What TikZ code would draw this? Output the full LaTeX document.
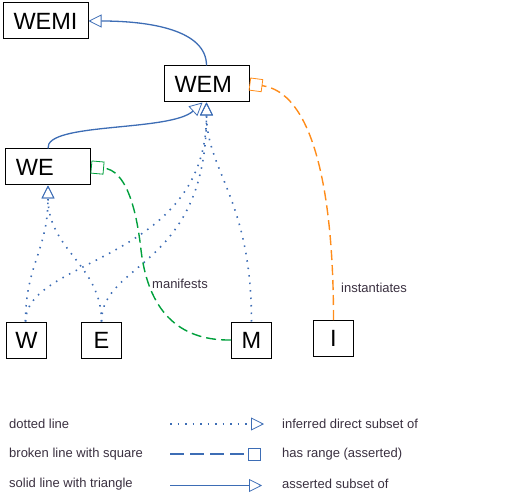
\documentclass[tikz,border=0pt]{standalone}
\usepackage{fontspec}
\setmainfont{Liberation Sans}
\usetikzlibrary{arrows.meta}
\definecolor{lblue}{HTML}{3D6DB5}
\definecolor{lgreen}{HTML}{00A03C}
\definecolor{lorange}{HTML}{FF8C1A}
\definecolor{ltext}{HTML}{3A3040}
\begin{document}
\begin{tikzpicture}[x=1pt,y=-1pt,
  box/.style={draw=black, line width=1pt, minimum height=36pt, inner sep=0pt, font=\fontsize{23.5}{28}\selectfont},
  bigbox/.style={box, minimum width=85pt, text width=64pt, align=left},
  smallbox/.style={box, minimum width=40pt},
  lbl/.style={font=\fontsize{13}{15}\selectfont, text=ltext, anchor=west, inner sep=0pt},
  tri/.style={-{Triangle[open,length=13pt,width=13pt,line width=0.8pt]}},
  sq/.style={-{Square[open,length=13pt,width=13pt,line width=0.8pt]}},
  solidrel/.style={draw=lblue, line width=1.3pt, tri},
  dotrel/.style={draw=lblue, line width=1.6pt, dash pattern=on 1.5pt off 6pt, tri},
  greenrel/.style={draw=lgreen, line width=1.4pt, dash pattern=on 10pt off 5pt, sq},
  orangerel/.style={draw=lorange, line width=1.4pt, dash pattern=on 10pt off 5pt, sq}
]
\useasboundingbox (0,0) rectangle (527,494);
% nodes
\node[bigbox] (WEMI) at (45.5,21) {WEMI};
\node[bigbox] (WEM) at (206.5,84) {WEM};
\node[bigbox] (WE) at (48,167) {WE};
\node[smallbox] (W) at (26.5,340) {W};
\node[smallbox] (E) at (101.5,340) {E};
\node[smallbox] (M) at (251.5,340) {M};
\node[smallbox] (I) at (333.5,338.5) {I};
% solid subset arrows
\draw[solidrel] (WEM.north) .. controls (206.5,30) and (150,21) .. (WEMI.east);
\draw[solidrel] (WE.north) .. controls (45,122) and (170,132) .. ([xshift=-4pt]WEM.south);
% dotted inferred arrows
\draw[dotrel] ([xshift=-1pt]W.north) .. controls (25.5,265) and (48,250) .. (WE.south);
\draw[dotrel] (E.north) .. controls (101.5,265) and (48,250) .. (WE.south);
\draw[dotrel] ([xshift=-1pt]W.north) .. controls (25.5,258) and (206.5,262) .. (WEM.south);
\draw[dotrel] (E.north) .. controls (101.5,262) and (206.5,268) .. (WEM.south);
\draw[dotrel] (M.north) .. controls (251.5,200) and (206.5,170) .. (WEM.south);
% range arrows
\draw[greenrel] (M.west) .. controls (170,341) and (147,300) .. (141,250) .. controls (136,205) and (125,170) .. (WE.east);
\draw[orangerel] (I.north) .. controls (333.5,180) and (310,92) .. (WEM.east);
\node[lbl] (lman) at (152,284) {manifests};
\node[lbl] (linst) at (341,288) {instantiates};
% legend
\node[lbl] (t1) at (9,424) {dotted line};
\node[lbl] (t2) at (9,454) {broken line with square};
\node[lbl] (t3) at (9,484) {solid line with triangle};
\coordinate (l1a) at (170,424); \coordinate (l1b) at (264,424);
\coordinate (l2a) at (170,454); \coordinate (l2b) at (261,454);
\coordinate (l3a) at (170,485.5); \coordinate (l3b) at (262,485.5);
\draw[draw=lblue, line width=1.6pt, dash pattern=on 1.5pt off 6pt, tri] (l1a) -- (l1b);
\draw[draw=lblue, line width=1.4pt, dash pattern=on 14pt off 6pt, sq] (l2a) -- (l2b);
\draw[solidrel] (l3a) -- (l3b);
\node[lbl] (r1) at (282,424) {inferred direct subset of};
\node[lbl] (r2) at (282,454) {has range (asserted)};
\node[lbl] (r3) at (282,484) {asserted subset of};
\end{tikzpicture}
\end{document}
